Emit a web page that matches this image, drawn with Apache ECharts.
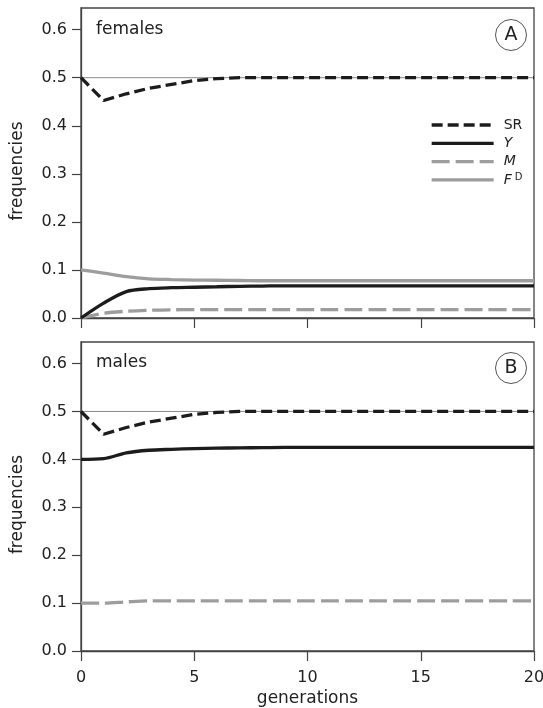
<!DOCTYPE html>
<html>
<head>
<meta charset="utf-8">
<script src="https://cdn.jsdelivr.net/npm/echarts@6/dist/echarts.min.js"></script>
<style>html,body{margin:0;padding:0;background:#fff}#c{width:543px;height:708px}</style>
</head>
<body>
<div id="c"></div>
<script>
// generations
var gens = [0,1,2,3,4,5,6,7,8,9,10,11,12,13,14,15,16,17,18,19,20];
// Panel A: females
var srFemale = [0.5,0.4525,0.4665,0.478,0.486,0.494,0.498,0.5,0.5,0.5,0.5,0.5,0.5,0.5,0.5,0.5,0.5,0.5,0.5,0.5,0.5];
var yFemale  = [0,0.031,0.055,0.061,0.063,0.064,0.065,0.066,0.0665,0.067,0.067,0.067,0.067,0.067,0.067,0.067,0.067,0.067,0.067,0.067,0.067];
var mFemale  = [0,0.010,0.014,0.016,0.017,0.0175,0.0175,0.0175,0.0175,0.0175,0.0175,0.0175,0.0175,0.0175,0.0175,0.0175,0.0175,0.0175,0.0175,0.0175,0.0175];
var fdFemale = [0.1,0.0935,0.086,0.0815,0.080,0.079,0.0785,0.078,0.0775,0.0775,0.0775,0.0775,0.0775,0.0775,0.0775,0.0775,0.0775,0.0775,0.0775,0.0775,0.0775];
// Panel B: males
var srMale = [0.5,0.4525,0.4665,0.478,0.486,0.494,0.498,0.5,0.5,0.5,0.5,0.5,0.5,0.5,0.5,0.5,0.5,0.5,0.5,0.5,0.5];
var yMale  = [0.4,0.4015,0.4135,0.419,0.421,0.4225,0.4235,0.424,0.4245,0.425,0.425,0.425,0.425,0.425,0.425,0.425,0.425,0.425,0.425,0.425,0.425];
var mMale  = [0.1,0.1,0.1025,0.1045,0.1045,0.1045,0.1045,0.1045,0.1045,0.1045,0.1045,0.1045,0.1045,0.1045,0.1045,0.1045,0.1045,0.1045,0.1045,0.1045,0.1045];
// axis ticks
var yTicks = [0,0.1,0.2,0.3,0.4,0.5,0.6];
var xTicks = [0,5,10,15,20];
var refLevel = 0.5;

var FONT = 'DejaVu Sans';
var BLACK = '#1c1c1c', GRAY = '#9d9d9d', FRAME = '#444';

function pairs(ys){ return gens.map(function(g,i){ return [g, ys[i]]; }); }

function yAxis(gi, nameShift){
  return {
    type:'value', gridIndex: gi, min:0, max:0.645, interval:0.1,
    name:'frequencies', nameLocation:'middle', nameGap:55,
    nameTextStyle:{fontFamily:FONT, fontSize:17, color:'#222', padding:[0,nameShift,0,0]},
    axisLine:{show:true, lineStyle:{color:FRAME, width:1.3}},
    axisTick:{show:true, inside:false, length:9, customValues:yTicks, lineStyle:{color:FRAME, width:1.2}},
    axisLabel:{fontFamily:FONT, fontSize:16, color:'#222', margin:14, customValues:yTicks,
      formatter:function(v){return v.toFixed(1);}},
    splitLine:{show:false}
  };
}
function xAxis(gi, showLabel){
  var a = {
    type:'value', gridIndex: gi, min:0, max:20, interval:5,
    axisLine:{show:true, onZero:false, lineStyle:{color:FRAME, width:1.3}},
    axisTick:{show:true, inside:false, length:10, customValues:xTicks, lineStyle:{color:FRAME, width:1.2}},
    axisLabel:{show:showLabel, fontFamily:FONT, fontSize:16, color:'#222', margin:19, customValues:xTicks},
    splitLine:{show:false}
  };
  if (showLabel){
    a.name='generations'; a.nameLocation='middle'; a.nameGap=39;
    a.nameTextStyle={fontFamily:FONT, fontSize:17, color:'#222'};
  }
  return a;
}
function line(name, gi, ys, color, dash, smooth, z){
  return {
    type:'line', name:name, xAxisIndex:gi, yAxisIndex:gi, data:pairs(ys),
    symbol:'none', smooth:smooth, z:z, silent:true,
    lineStyle:{color:color, width:3.3, type:dash},
    itemStyle:{color:color}
  };
}
function refLine(gi){
  return {
    type:'line', name:'ref'+gi, xAxisIndex:gi, yAxisIndex:gi,
    data:[[gens[0],refLevel],[gens[gens.length-1],refLevel]],
    symbol:'none', z:1, silent:true,
    lineStyle:{color:'#8a8a8a', width:1}
  };
}

var chart = echarts.init(document.getElementById('c'), null, {renderer:'canvas'});
chart.setOption({
  animation:false,
  backgroundColor:'#fff',
  grid:[
    {left:81, right:9, top:8, height:310, show:true, borderColor:FRAME, borderWidth:1.3, backgroundColor:'transparent', outerBoundsMode:'none', containLabel:false},
    {left:81, right:9, top:342, height:309, show:true, borderColor:FRAME, borderWidth:1.3, backgroundColor:'transparent', outerBoundsMode:'none', containLabel:false}
  ],
  xAxis:[xAxis(0,false), xAxis(1,true)],
  yAxis:[yAxis(0,16), yAxis(1,16)],
  legend:{
    data:['SR','Y','M','FD'],
    orient:'vertical', left:430, top:118, padding:0,
    itemWidth:62, itemHeight:14, itemGap:4.3,
    selectedMode:false,
    lineStyle:{width:3.3},
    itemStyle:{opacity:0},
    textStyle:{fontFamily:FONT, fontSize:14, color:'#222', lineHeight:14, padding:[0,0,0,5],
      rich:{
        n:{fontFamily:FONT, fontSize:14, color:'#222'},
        i:{fontFamily:FONT, fontSize:14, fontStyle:'italic', color:'#222'},
        s:{fontFamily:FONT, fontSize:10, color:'#222', verticalAlign:'top', padding:[0,0,6,3]}
      }},
    formatter:function(n){
      if(n==='SR') return '{n|SR}';
      if(n==='FD') return '{i|F}{s|D}';
      return '{i|'+n+'}';
    }
  },
  series:[
    refLine(0),
    line('FD',0,fdFemale,GRAY,'solid',0.3,3),
    line('M',0,mFemale,GRAY,[18,6],0.3,3),
    line('Y',0,yFemale,BLACK,'solid',0.3,4),
    line('SR',0,srFemale,BLACK,[11,5],false,5),
    refLine(1),
    line('M',1,mMale,GRAY,[18,6],0.3,3),
    line('Y',1,yMale,BLACK,'solid',0.3,4),
    line('SR',1,srMale,BLACK,[11,5],false,5)
  ],
  graphic:[
    {type:'text', left:96, top:21, style:{text:'females', fontFamily:FONT, fontSize:17, fill:'#222'}},
    {type:'text', left:96, top:354, style:{text:'males', fontFamily:FONT, fontSize:17, fill:'#222'}},
    {type:'circle', shape:{cx:511, cy:35, r:15.5}, style:{fill:'#fff', stroke:'#555', lineWidth:1}},
    {type:'text', x:511, y:35, style:{text:'A', fontFamily:FONT, fontSize:19, fill:'#222', align:'center', verticalAlign:'middle'}},
    {type:'circle', shape:{cx:511, cy:368, r:15.5}, style:{fill:'#fff', stroke:'#555', lineWidth:1}},
    {type:'text', x:511, y:368, style:{text:'B', fontFamily:FONT, fontSize:19, fill:'#222', align:'center', verticalAlign:'middle'}}
  ]
});
</script>
</body>
</html>
